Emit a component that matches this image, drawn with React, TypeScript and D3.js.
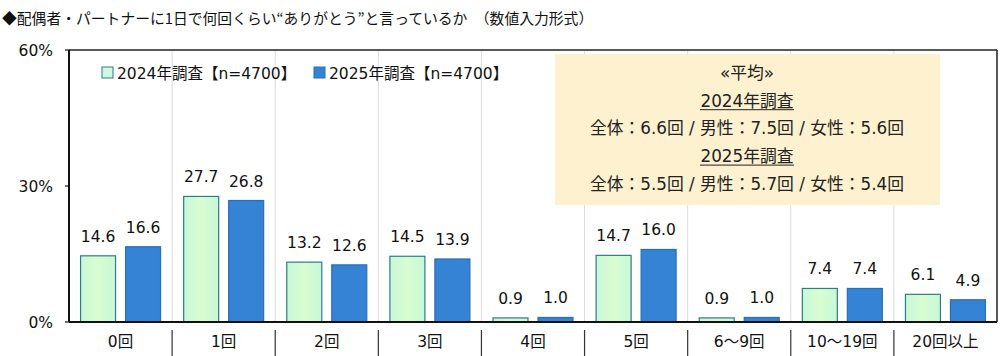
import React from "react";
import * as d3 from "d3";

const title = "◆配偶者・パートナーに1日で何回くらい“ありがとう”と言っているか　（数値入力形式）";
const categories = ["0回", "1回", "2回", "3回", "4回", "5回", "6～9回", "10～19回", "20回以上"];
const values2024 = [14.6, 27.7, 13.2, 14.5, 0.9, 14.7, 0.9, 7.4, 6.1];
const values2025 = [16.6, 26.8, 12.6, 13.9, 1.0, 16.0, 1.0, 7.4, 4.9];
const seriesNames = ["2024年調査【n=4700】", "2025年調査【n=4700】"];
const yTicks = [0, 30, 60];
const noteLines = ["«平均»", "2024年調査", "全体：6.6回 / 男性：7.5回 / 女性：5.6回", "2025年調査", "全体：5.5回 / 男性：5.7回 / 女性：5.4回"];
const noteUnderline = [false, true, false, true, false];

const W = 1000, H = 356;
const L = 69, R = 997, T = 50, B = 322;
const FONT = "'DejaVu Sans', 'Noto Sans CJK JP', sans-serif";
const TFONT = "'Noto Sans CJK JP', sans-serif";

export default function App() {
  const x = d3.scaleBand<string>().domain(categories).range([L, R]).padding(0);
  const y = d3.scaleLinear().domain([0, 60]).range([B, T]);
  const bw = x.bandwidth();
  const barW = 35;
  const off = 22.5;
  const series = [
    { vals: values2024, fill: "url(#g24)", stroke: "#2e7b8c", dx: -off },
    { vals: values2025, fill: "#3483d4", stroke: "#2a6fb5", dx: off },
  ];
  return (
    <svg width={W} height={H} style={{ position: "absolute", left: 0, top: 0, fontFamily: FONT }}>
      <defs>
        <linearGradient id="g24" x1="0" y1="0" x2="1" y2="0">
          <stop offset="0" stopColor="#c8f7d8" />
          <stop offset="0.5" stopColor="#d8fdd0" />
          <stop offset="1" stopColor="#c8f7d8" />
        </linearGradient>
      </defs>
      <rect width={W} height={H} fill="#fff" />
      <text x={2} y={24} fontSize={14.8} fill="#111" fontFamily={TFONT}>{title}</text>
      {/* vertical separators */}
      {categories.slice(1).map((c) => (
        <line key={c} x1={x(c)!} x2={x(c)!} y1={T} y2={B} stroke="#dcdcdc" strokeWidth={1} />
      ))}
      {categories.slice(1).map((c) => (
        <line key={"s" + c} x1={x(c)!} x2={x(c)!} y1={B + 8} y2={H} stroke="#333" strokeWidth={1.2} />
      ))}
      {/* note box */}
      <rect x={555} y={54} width={385} height={151} fill="#fdf1cf" />
      {noteLines.map((t, i) => {
        const ty = 79 + i * 27.7;
        return (
          <g key={i}>
            <text x={747} y={ty} textAnchor="middle" fontSize={16.8} fill="#222">{t}</text>
            {noteUnderline[i] && (
              <line x1={747 - 47} x2={747 + 47} y1={ty + 3} y2={ty + 3} stroke="#222" strokeWidth={1} />
            )}
          </g>
        );
      })}
      {/* bars */}
      {series.map((s, si) =>
        categories.map((c, i) => {
          const cx = x(c)! + bw / 2 + s.dx;
          return (
            <g key={si + "-" + c}>
              <rect x={cx - barW / 2} y={y(s.vals[i])} width={barW} height={B - y(s.vals[i])} fill={s.fill} stroke={s.stroke} strokeWidth={1.2} />
              <text x={cx} y={y(s.vals[i]) - 14} textAnchor="middle" fontSize={15.5} fill="#111">{s.vals[i].toFixed(1)}</text>
            </g>
          );
        })
      )}
      {/* frame */}
      <line x1={L} x2={R} y1={T} y2={T} stroke="#222" strokeWidth={1.5} />
      <line x1={R} x2={R} y1={T} y2={B} stroke="#222" strokeWidth={1.5} />
      <line x1={L} x2={L} y1={T} y2={B} stroke="#111" strokeWidth={2} />
      <line x1={L} x2={R} y1={B} y2={B} stroke="#111" strokeWidth={2} />
      {yTicks.map((t) => (
        <g key={t}>
          <line x1={L - 4} x2={L} y1={y(t)} y2={y(t)} stroke="#111" strokeWidth={1.2} />
          <text x={L - 16} y={y(t) + 6} textAnchor="end" fontSize={15.5} fill="#111">{t + "%"}</text>
        </g>
      ))}
      {categories.map((c) => (
        <text key={"x" + c} x={x(c)! + bw / 2} y={347} textAnchor="middle" fontSize={15.5} fill="#111">{c}</text>
      ))}
      {/* legend */}
      {seriesNames.map((n, i) => (
        <g key={n} transform={`translate(${102 + i * 212},73)`}>
          <rect x={0} y={-6} width={11} height={11} fill={i === 0 ? "#d0f7e0" : "#3483d4"} stroke={i === 0 ? "#2e7b8c" : "#2a6fb5"} />
          <text x={15} y={6} fontSize={15.5} fill="#111">{n}</text>
        </g>
      ))}
    </svg>
  );
}
